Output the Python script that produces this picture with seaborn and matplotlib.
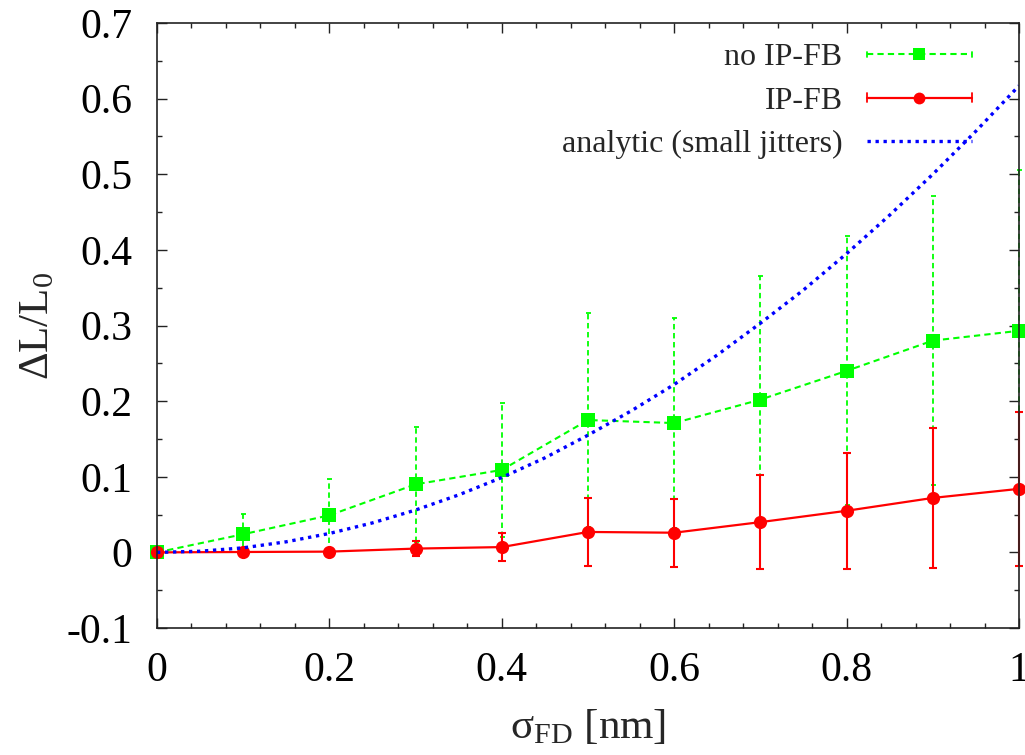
import numpy as np
import pandas as pd
import matplotlib
matplotlib.use("Agg")
import matplotlib.pyplot as plt
from matplotlib.lines import Line2D
from matplotlib.legend_handler import HandlerLine2D
from matplotlib.ticker import MultipleLocator
import seaborn as sns

# --- data -------------------------------------------------------------
sigma = [0.0, 0.1, 0.2, 0.3, 0.4, 0.5, 0.6, 0.7, 0.8, 0.9, 1.0]

no_fb = [0.0, 0.024, 0.049, 0.090, 0.109, 0.175, 0.171, 0.202, 0.240, 0.280, 0.293]
no_fb_err = [0.0, 0.027, 0.048, 0.076, 0.089, 0.142, 0.139, 0.164, 0.178, 0.191, 0.213]

with_fb = [0.0, 0.0005, 0.001, 0.005, 0.007, 0.027, 0.026, 0.040, 0.055, 0.072, 0.084]
with_fb_err = [0.0, 0.001, 0.002, 0.010, 0.018, 0.045, 0.045, 0.062, 0.077, 0.092, 0.102]

sigma_fine = [0.0, 0.05, 0.1, 0.15, 0.2, 0.25, 0.3, 0.35, 0.4, 0.45, 0.5,
              0.55, 0.6, 0.65, 0.7, 0.75, 0.8, 0.85, 0.9, 0.95, 1.0]
analytic = [0.0, 0.0015, 0.006, 0.014, 0.025, 0.039, 0.056, 0.076, 0.099, 0.125, 0.155,
            0.187, 0.222, 0.261, 0.303, 0.347, 0.395, 0.446, 0.500, 0.557, 0.617]

labels = ["no IP-FB", "IP-FB", "analytic (small jitters)"]

GREEN = "#00ff00"
RED = "#ff0000"
BLUE = "#0000ff"

# --- style ------------------------------------------------------------
sns.set_style("ticks")
plt.rcParams["font.family"] = ["Liberation Serif", "DejaVu Serif"]
plt.rcParams["mathtext.fontset"] = "custom"
plt.rcParams["mathtext.rm"] = "Liberation Serif"
plt.rcParams["mathtext.it"] = "Liberation Serif:italic"

df_nofb = pd.DataFrame({"sigma": sigma, "val": no_fb})
df_fb = pd.DataFrame({"sigma": sigma, "val": with_fb})
df_an = pd.DataFrame({"sigma": sigma_fine, "val": analytic})

fig = plt.figure(figsize=(10.25, 7.55), dpi=100)
ax = fig.add_axes([157 / 1025, 1 - 628 / 755, (1019 - 157) / 1025, (628 - 23) / 755])

DASH = (0, (3, 2))
DOT = (0, (1, 1.4))

# no feedback: dashed green with error bars
eb = ax.errorbar(sigma, no_fb, yerr=no_fb_err, fmt="none", ecolor=GREEN,
                 elinewidth=1.3, capsize=1.8, capthick=1.3, zorder=2.0, clip_on=False)
for coll in eb[2]:
    coll.set_linestyle(DASH)
sns.lineplot(data=df_nofb, x="sigma", y="val", ax=ax, color=GREEN,
             linestyle=DASH, linewidth=1.5, marker="s", markersize=9.5,
             markeredgewidth=0, zorder=2.1, clip_on=False)

# with feedback: solid red with error bars
ax.errorbar(sigma, with_fb, yerr=with_fb_err, fmt="none", ecolor=RED,
            elinewidth=1.5, capsize=2.6, capthick=1.5, zorder=2.2, clip_on=False)
sns.lineplot(data=df_fb, x="sigma", y="val", ax=ax, color=RED,
             linestyle="-", linewidth=1.6, marker="o", markersize=9.5,
             markeredgewidth=0, zorder=2.3, clip_on=False)

# analytic small-jitter estimate
sns.lineplot(data=df_an, x="sigma", y="val", ax=ax, color=BLUE,
             linestyle=DOT, linewidth=2.4, zorder=2.4)

ax.set_xlim(0, 1)
ax.set_ylim(-0.1, 0.7)
ax.xaxis.set_minor_locator(MultipleLocator(0.04))
ax.yaxis.set_minor_locator(MultipleLocator(0.05))
ax.set_xticks([0, 0.2, 0.4, 0.6, 0.8, 1.0])
ax.set_xticklabels(["0", "0.2", "0.4", "0.6", "0.8", "1"])
ax.set_yticks([-0.1, 0, 0.1, 0.2, 0.3, 0.4, 0.5, 0.6, 0.7])
ax.set_yticklabels(["-0.1", "0", "0.1", "0.2", "0.3", "0.4", "0.5", "0.6", "0.7"])

ax.tick_params(which="both", direction="in", top=True, right=True,
               colors="#222222", labelcolor="black", width=1.0)
ax.tick_params(which="major", length=7, labelsize=30)
ax.tick_params(which="minor", length=3.5)
ax.tick_params(axis="x", which="major", pad=17)
ax.tick_params(axis="y", which="major", pad=18)
for sp in ax.spines.values():
    sp.set_visible(True)
    sp.set_linewidth(1.2)
    sp.set_color("#222222")

ax.set_xlabel("σ$_{\\mathrm{FD}}$ [nm]", fontsize=31, labelpad=13)
ax.set_ylabel("ΔL/L$_0$", fontsize=31, labelpad=6)


class CappedLine(HandlerLine2D):
    """Legend sample drawn as a horizontal line with short end caps."""

    def __init__(self, cap=0.2, **kw):
        super().__init__(**kw)
        self.cap = cap

    def create_artists(self, legend, orig_handle, xdescent, ydescent,
                       width, height, fontsize, trans):
        artists = super().create_artists(legend, orig_handle, xdescent, ydescent,
                                         width, height, fontsize, trans)
        line = artists[0]
        xd = line.get_xdata()
        y = line.get_ydata()[0]
        h = self.cap * fontsize
        caps = Line2D([xd[0], xd[0], np.nan, xd[-1], xd[-1]],
                      [y - h, y + h, np.nan, y - h, y + h],
                      color=orig_handle.get_color(), linewidth=1.3,
                      transform=trans)
        return artists + [caps]


h_nofb = Line2D([], [], color=GREEN, linestyle=DASH, linewidth=1.5,
                marker="s", markersize=8.5, markeredgewidth=0)
h_fb = Line2D([], [], color=RED, linestyle="-", linewidth=1.6,
              marker="o", markersize=8.5, markeredgewidth=0)
h_an = Line2D([], [], color=BLUE, linestyle=DOT, linewidth=2.4)

leg = ax.legend([h_nofb, h_fb, h_an], labels, loc="upper right",
                bbox_to_anchor=(972 / 1025, 1 - 43 / 755),
                bbox_transform=fig.transFigure, frameon=False,
                markerfirst=False, numpoints=1, fontsize=23,
                handlelength=3.3, handletextpad=0.75, labelspacing=0.44,
                borderpad=0, borderaxespad=0,
                handler_map={h_nofb: CappedLine(cap=0.08),
                             h_fb: CappedLine(cap=0.15)})

fig.savefig("out.png", dpi=100)
